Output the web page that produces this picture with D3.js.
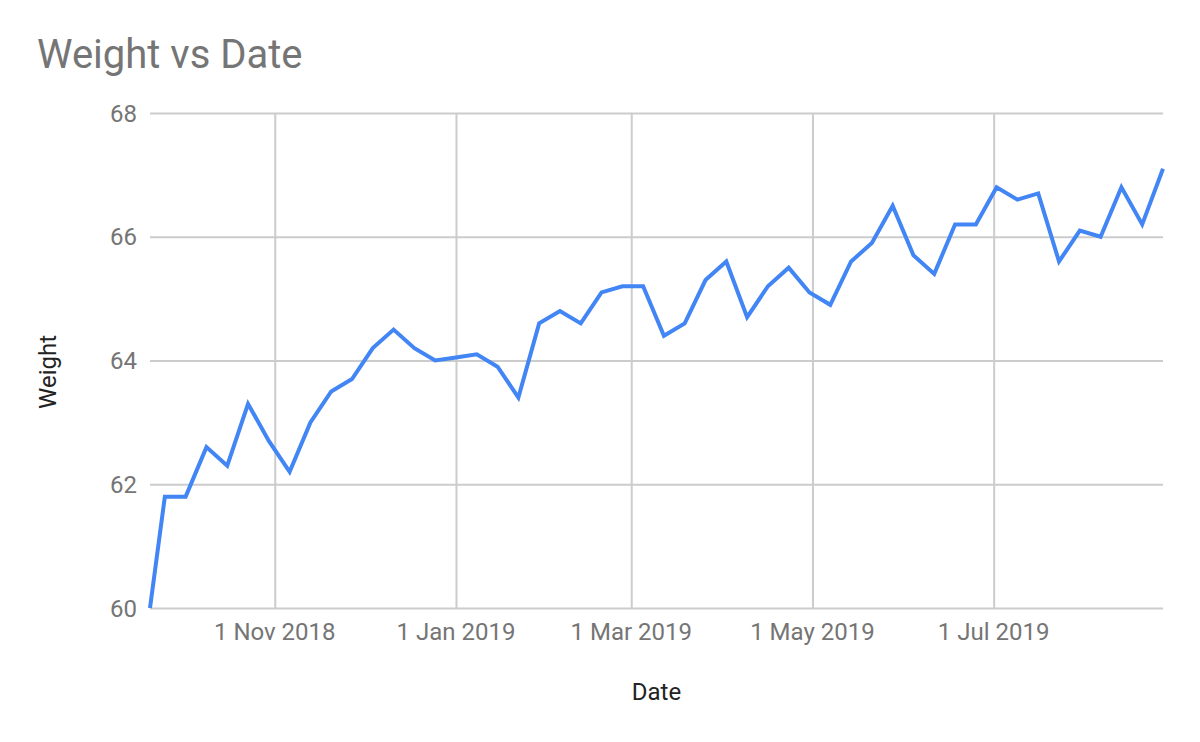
<!DOCTYPE html>
<html>
<head>
<meta charset="utf-8">
<script src="https://d3js.org/d3.v7.min.js"></script>
<style>
    body { margin: 0; background: #fff; }
    text { font-family: Roboto, "Noto Sans", sans-serif; }
    .grid line { stroke: #cccccc; stroke-width: 2px; }
    .grid path { display: none; }
    .tickLabel { fill: #757575; font-size: 24px; }
</style>
</head>
<body>
<script>
//weekly weigh-in dates
var dates = ["2018-09-20", "2018-09-25", "2018-10-02", "2018-10-09", "2018-10-16", "2018-10-23",
    "2018-10-30", "2018-11-06", "2018-11-13", "2018-11-20", "2018-11-27", "2018-12-04",
    "2018-12-11", "2018-12-18", "2018-12-25", "2019-01-01", "2019-01-08", "2019-01-15",
    "2019-01-22", "2019-01-29", "2019-02-05", "2019-02-12", "2019-02-19", "2019-02-26",
    "2019-03-05", "2019-03-12", "2019-03-19", "2019-03-26", "2019-04-02", "2019-04-09",
    "2019-04-16", "2019-04-23", "2019-04-30", "2019-05-07", "2019-05-14", "2019-05-21",
    "2019-05-28", "2019-06-04", "2019-06-11", "2019-06-18", "2019-06-25", "2019-07-02",
    "2019-07-09", "2019-07-16", "2019-07-23", "2019-07-30", "2019-08-06", "2019-08-13",
    "2019-08-20", "2019-08-27"];

//weight values
var weights = [60.0, 61.8, 61.8, 62.6, 62.3, 63.3,
    62.7, 62.2, 63.0, 63.5, 63.7, 64.2,
    64.5, 64.2, 64.0, 64.05, 64.1, 63.9,
    63.4, 64.6, 64.8, 64.6, 65.1, 65.2,
    65.2, 64.4, 64.6, 65.3, 65.6, 64.7,
    65.2, 65.5, 65.1, 64.9, 65.6, 65.9,
    66.5, 65.7, 65.4, 66.2, 66.2, 66.8,
    66.6, 66.7, 65.6, 66.1, 66.0, 66.8,
    66.2, 67.1];

//axis ticks
var yTicks = [60, 62, 64, 66, 68];
var xTicks = ["2018-11-01", "2019-01-01", "2019-03-01", "2019-05-01", "2019-07-01"];

window.onload = setChart();

function setChart(){

    var width = 1200,
        height = 742;

    var margin = {top: 113, right: 37, bottom: 134, left: 150};

    var parseDate = d3.timeParse("%Y-%m-%d");

    var data = dates.map(function(d, i){
        return {date: parseDate(d), weight: weights[i]};
    });

    var svg = d3.select("body")
        .append("svg")
        .attr("width", width)
        .attr("height", height);

    var x = d3.scaleTime()
        .domain(d3.extent(data, function(d){ return d.date; }))
        .range([margin.left, width - margin.right]);

    var y = d3.scaleLinear()
        .domain([60, 68])
        .range([height - margin.bottom, margin.top]);

    //horizontal gridlines
    svg.append("g")
        .attr("class", "grid")
        .attr("transform", "translate(" + margin.left + ",0)")
        .call(d3.axisLeft(y)
            .tickValues(yTicks)
            .tickSize(-(width - margin.left - margin.right))
            .tickFormat(""));

    //vertical gridlines
    svg.append("g")
        .attr("class", "grid")
        .attr("transform", "translate(0," + (height - margin.bottom) + ")")
        .call(d3.axisBottom(x)
            .tickValues(xTicks.map(parseDate))
            .tickSize(-(height - margin.top - margin.bottom))
            .tickFormat(""));

    //y tick labels
    svg.selectAll(".yLabel")
        .data(yTicks)
        .enter()
        .append("text")
        .attr("class", "tickLabel")
        .attr("x", margin.left - 13)
        .attr("y", function(d){ return y(d); })
        .attr("dy", "0.36em")
        .attr("text-anchor", "end")
        .text(function(d){ return d; });

    //x tick labels
    var fmt = d3.timeFormat("%-d %b %Y");
    svg.selectAll(".xLabel")
        .data(xTicks)
        .enter()
        .append("text")
        .attr("class", "tickLabel")
        .attr("x", function(d){ return x(parseDate(d)); })
        .attr("y", 640)
        .attr("text-anchor", "middle")
        .text(function(d){ return fmt(parseDate(d)); });

    //weight line
    var line = d3.line()
        .x(function(d){ return x(d.date); })
        .y(function(d){ return y(d.weight); });

    svg.append("path")
        .datum(data)
        .attr("fill", "none")
        .attr("stroke", "#4285f4")
        .attr("stroke-width", 4)
        .attr("stroke-linejoin", "miter")
        .attr("d", line);

    //title
    svg.append("text")
        .attr("x", 37)
        .attr("y", 68)
        .attr("fill", "#757575")
        .style("font-size", "40px")
        .text("Weight vs Date");

    //axis titles
    svg.append("text")
        .attr("x", (margin.left + width - margin.right) / 2)
        .attr("y", 700)
        .attr("text-anchor", "middle")
        .attr("fill", "#222222")
        .style("font-size", "24px")
        .text("Date");

    svg.append("text")
        .attr("transform", "translate(56,372) rotate(-90)")
        .attr("text-anchor", "middle")
        .attr("fill", "#222222")
        .style("font-size", "24px")
        .text("Weight");
}
</script>
</body>
</html>
